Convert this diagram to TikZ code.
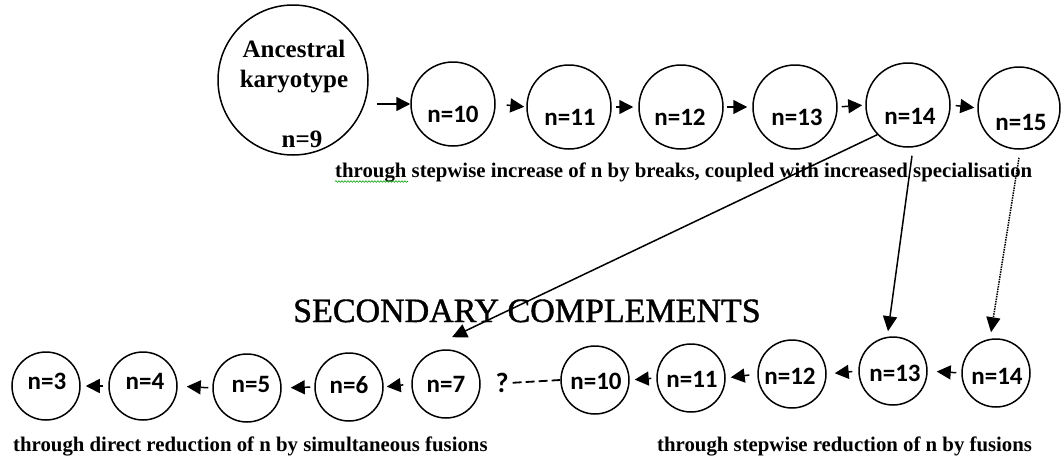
\documentclass[tikz,border=0pt]{standalone}
\usepackage{fontspec}
\setmainfont{Liberation Serif}
\newfontfamily\calfont{Carlito}
\newfontfamily\headfont[FakeBold=1.2]{Liberation Serif}
\usetikzlibrary{arrows.meta,decorations.pathmorphing}

\begin{document}
\begin{tikzpicture}[x=1pt,y=-1pt,
  ring/.style={draw, circle, line width=1.5pt, inner sep=0pt},
  bigring/.style={ring, minimum size=150pt},
  topring/.style={ring, minimum size=84pt},
  lowring/.style={ring, minimum size=68pt},
  clabel/.style={font=\calfont\bfseries\fontsize{25}{28}\selectfont, inner sep=0pt},
  ancfont/.style={font=\bfseries\fontsize{25}{28}\selectfont, inner sep=0pt, anchor=base},
  captext/.style={font=\bfseries\fontsize{20.8}{24}\selectfont, inner sep=0pt, anchor=base west},
  headtext/.style={font=\headfont\fontsize{34}{38}\selectfont, inner sep=0pt, anchor=base west},
  stepline/.style={line width=1.5pt, -{Triangle[length=14pt,width=14pt]}},
  linkline/.style={line width=1.5pt, -{Triangle[length=15pt,width=14pt]}},
  dotline/.style={line width=1.5pt, dash pattern=on 1.5pt off 1pt, -{Triangle[length=15pt,width=14pt]}},
  gapline/.style={line width=1.8pt, dash pattern=on 9pt off 4pt},
  squiggle/.style={draw=green!60!black, line width=0.6pt, decorate,
    decoration={snake, amplitude=0.8pt, segment length=3pt}}
]
\useasboundingbox (0,0) rectangle (1061,461);

% ancestral karyotype
\node[bigring] (anc) at (293,80) {};
\node[ancfont] (anctA) at (294,57) {Ancestral};
\node[ancfont] (anctB) at (294,87) {karyotype};
\node[ancfont] (anctC) at (302,147) {n=9};

% upper chain: stepwise increase
\node[topring] (u10) at (453,104) {};
\node[topring] (u11) at (569,107) {};
\node[topring] (u12) at (681,107) {};
\node[topring] (u13) at (795,107) {};
\node[topring] (u14) at (908,105) {};
\node[ring, minimum size=82pt] (u15) at (1019,108) {};
\node[clabel] (lu10) at (453,114) {n=10};
\node[clabel] (lu11) at (570,117) {n=11};
\node[clabel] (lu12) at (680,117) {n=12};
\node[clabel] (lu13) at (797,117) {n=13};
\node[clabel] (lu14) at (910,116) {n=14};
\node[clabel] (lu15) at (1021,122) {n=15};

\draw[stepline, shorten <=8pt] (anc.east |- u10.west) -- (u10.west);
\draw[stepline, shorten <=11pt, shorten >=2pt] (u10.east) -- (u11.west);
\draw[stepline, shorten <=4pt, shorten >=5pt] (u11.east) -- (u12.west);
\draw[stepline, shorten <=3pt, shorten >=5pt] (u12.east) -- (u13.west);
\draw[stepline, shorten <=4pt, shorten >=3pt] (u13.east) -- (u14.west);
\draw[stepline, shorten <=5pt, shorten >=3pt] (u14.east) -- (u15.west);

\node[captext] (capTop) at (335,177)
  {through stepwise increase of n by breaks, coupled with increased specialisation};
\draw[squiggle] ([yshift=-4.5pt]capTop.base west) -- ++(73,0);

% heading
\node[headtext] (head) at (293,322) {SECONDARY COMPLEMENTS};

% lower chain: reduction
\node[lowring] (d3) at (46,386) {};
\node[lowring] (d4) at (143,386) {};
\node[lowring] (d5) at (247,388) {};
\node[lowring] (d6) at (349,387) {};
\node[lowring] (d7) at (446,384) {};
\node[lowring] (d10) at (595,380) {};
\node[lowring] (d11) at (691,378) {};
\node[lowring] (d12) at (792,374) {};
\node[lowring] (d13) at (893,371) {};
\node[lowring] (d14) at (996,373) {};
\node[clabel] (ld3) at (47,381) {n=3};
\node[clabel] (ld4) at (145,381) {n=4};
\node[clabel] (ld5) at (251,384) {n=5};
\node[clabel] (ld6) at (349,385) {n=6};
\node[clabel] (ld7) at (446,384) {n=7};
\node[clabel] (ld10) at (596,381) {n=10};
\node[clabel] (ld11) at (692,379) {n=11};
\node[clabel] (ld12) at (790,376) {n=12};
\node[clabel] (ld13) at (895,373) {n=13};
\node[clabel] (ld14) at (997,376) {n=14};

\draw[stepline, shorten <=5pt, shorten >=5pt] (d4.west) -- (d3.east);
\draw[stepline, shorten <=4pt, shorten >=9pt] (d5.west) -- (d4.east);
\draw[stepline, shorten <=4pt, shorten >=9pt] (d6.west) -- (d5.east);
\draw[stepline, shorten <=8pt, shorten >=3pt] (d7.west) -- (d6.east);
\draw[stepline, shorten <=5pt, shorten >=5pt] (d11.west) -- (d10.east);
\draw[stepline, shorten <=8pt, shorten >=5pt] (d12.west) -- (d11.east);
\draw[stepline, shorten <=6pt, shorten >=8pt] (d13.west) -- (d12.east);
\draw[stepline, shorten <=5pt, shorten >=9pt] (d14.west) -- (d13.east);

\node[clabel, font=\calfont\bfseries\fontsize{28}{30}\selectfont] (qmark) at (502,383) {?};
\draw[gapline, shorten <=4pt] (qmark.east) -- (d10.west);

% links from the upper chain to the lower chain
\draw[linkline] (u14.224) -- ([xshift=6pt, yshift=12pt]d7.north);
\draw[linkline] ([xshift=4pt, yshift=-8pt]u14.south) -- ([xshift=-5pt, yshift=5pt]d13.north);
\draw[dotline] ([yshift=-8pt]u15.south) -- ([xshift=-5pt, yshift=6pt]d14.north);

\node[captext] (capLeft) at (13,451)
  {through direct reduction of n by simultaneous fusions};
\node[captext] (capRight) at (657,451)
  {through stepwise reduction of n by fusions};
\end{tikzpicture}
\end{document}
